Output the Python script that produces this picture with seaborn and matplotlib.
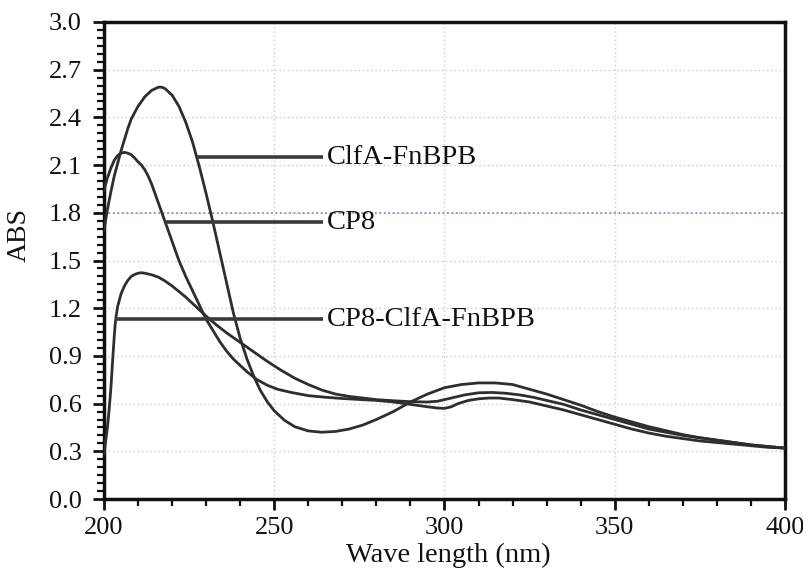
import numpy as np
import pandas as pd
import matplotlib
matplotlib.use("Agg")
import matplotlib.pyplot as plt
from matplotlib.ticker import MultipleLocator, FormatStrFormatter
import seaborn as sns

# ---------------- data ----------------
clfa_x = [200, 201, 202, 203, 204, 205, 206, 207, 208, 210, 212, 214, 216, 217, 218, 220,
          222, 224, 226, 228, 230, 232, 234, 236, 238, 240, 242, 244, 246, 248, 250, 253,
          256, 260, 264, 268, 272, 276, 280, 285, 290, 295, 300, 305, 310, 315, 320, 325,
          330, 335, 340, 345, 350, 355, 360, 365, 370, 375, 380, 385, 390, 395, 400]
clfa_y = [1.69, 1.82, 1.93, 2.03, 2.11, 2.19, 2.26, 2.33, 2.39, 2.47, 2.53, 2.57, 2.59, 2.59, 2.58, 2.54,
          2.47, 2.37, 2.245, 2.09, 1.92, 1.74, 1.55, 1.36, 1.17, 1.01, 0.88, 0.77, 0.68, 0.61, 0.555, 0.495,
          0.455, 0.428, 0.42, 0.425, 0.44, 0.465, 0.50, 0.55, 0.61, 0.66, 0.70, 0.72, 0.73, 0.73, 0.72, 0.69,
          0.66, 0.625, 0.59, 0.55, 0.515, 0.485, 0.455, 0.43, 0.405, 0.385, 0.37, 0.355, 0.34, 0.33, 0.32]

cp8_x = [200, 201, 202, 203, 204, 205, 206, 207, 208, 209, 210, 211, 212, 213, 214, 215,
         216, 217, 218, 219, 220, 221, 222, 224, 226, 228, 230, 232, 234, 236, 238, 240,
         242, 245, 248, 251, 255, 260, 265, 270, 275, 280, 285, 290, 295, 298, 300, 302,
         304, 307, 310, 313, 316, 320, 325, 330, 335, 340, 345, 350, 355, 360, 365, 370,
         375, 380, 385, 390, 395, 400]
cp8_y = [1.94, 2.02, 2.08, 2.13, 2.16, 2.175, 2.18, 2.175, 2.165, 2.145, 2.12, 2.10, 2.07, 2.03, 1.98, 1.92,
         1.86, 1.80, 1.74, 1.68, 1.62, 1.56, 1.50, 1.40, 1.31, 1.22, 1.13, 1.06, 0.99, 0.93, 0.88, 0.84,
         0.80, 0.75, 0.715, 0.69, 0.67, 0.65, 0.64, 0.632, 0.626, 0.62, 0.61, 0.595, 0.58, 0.572, 0.57, 0.58,
         0.60, 0.62, 0.63, 0.635, 0.635, 0.625, 0.61, 0.585, 0.56, 0.53, 0.50, 0.47, 0.44, 0.415, 0.395, 0.38,
         0.365, 0.355, 0.345, 0.335, 0.325, 0.32]

mix_x = [200, 201, 201.5, 202, 202.5, 203, 203.25, 203.5, 204, 205, 206, 207, 208, 209, 210, 211, 212,
         214, 216, 218, 220, 222, 224, 226, 228, 230, 233, 236, 240, 244, 248, 252, 256,
         260, 264, 268, 272, 276, 280, 285, 290, 295, 298, 300, 303, 306, 310, 314, 318,
         322, 326, 330, 335, 340, 345, 350, 355, 360, 365, 370, 375, 380, 385, 390, 395, 400]
mix_y = [0.28, 0.45, 0.56, 0.69, 0.86, 1.02, 1.09, 1.14, 1.21, 1.29, 1.34, 1.375, 1.40, 1.412, 1.42, 1.423, 1.42,
         1.41, 1.395, 1.37, 1.34, 1.305, 1.27, 1.23, 1.19, 1.15, 1.095, 1.045, 0.985, 0.925, 0.865, 0.81, 0.76,
         0.72, 0.685, 0.66, 0.645, 0.635, 0.625, 0.618, 0.612, 0.61, 0.615, 0.625, 0.64, 0.655, 0.668, 0.67, 0.665,
         0.655, 0.64, 0.62, 0.595, 0.56, 0.53, 0.50, 0.47, 0.44, 0.42, 0.40, 0.385, 0.37, 0.355, 0.34, 0.33, 0.32]

series_names = ["ClfA-FnBPB", "CP8", "CP8-ClfA-FnBPB"]

# label leader lines: start wavelength on the curve, end wavelength, ABS level
label_x_start = [227.3, 218.0, 203.2]
label_x_end = [264.3, 264.3, 264.3]
label_y = [2.15, 1.74, 1.13]
label_text_x = 265.5

x_ticks = [200, 250, 300, 350, 400]
y_ticks = [0.0, 0.3, 0.6, 0.9, 1.2, 1.5, 1.8, 2.1, 2.4, 2.7, 3.0]
highlight_grid_y = 1.8

# ---------------- build table ----------------
frames = []
for name, xs, ys in zip(series_names, [clfa_x, cp8_x, mix_x], [clfa_y, cp8_y, mix_y]):
    frames.append(pd.DataFrame({"wl": xs, "abs": ys, "series": name}))
df = pd.concat(frames, ignore_index=True)

# ---------------- style ----------------
sns.set_theme(style="white")
plt.rcParams["font.family"] = ["Liberation Serif", "DejaVu Serif"]

fig = plt.figure(figsize=(8.04, 5.72), dpi=100)
ax = fig.add_axes([104 / 804, 1 - 499 / 572, (785 - 104) / 804, (499 - 22) / 572])

ax.set_xlim(200, 400)
ax.set_ylim(0, 3.0)

# grid
ax.set_xticks(x_ticks)
ax.set_yticks(y_ticks)
ax.grid(True, which="major", linestyle=(0, (1, 2)), color="#c9c9d9", linewidth=1.0)
ax.axhline(highlight_grid_y, linestyle=(0, (1, 1.5)), color="#8c8cc8", linewidth=1.3, zorder=1)
ax.set_axisbelow(True)

line_color = "#2e2e2e"
sns.lineplot(data=df, x="wl", y="abs", hue="series", units="series", estimator=None,
             sort=False, palette=[line_color] * 3, linewidth=2.0, legend=False, ax=ax, zorder=3)

for xs, xe, yy, txt in zip(label_x_start, label_x_end, label_y, series_names):
    ax.plot([xs, xe], [yy, yy], color="#3a3a3a", linewidth=2.6, solid_capstyle="butt", zorder=4)
    ax.text(label_text_x, yy, txt, fontsize=20.5, va="center", ha="left", color="#111111", zorder=5)

# spines & ticks
for s in ax.spines.values():
    s.set_color("#111111")
    s.set_linewidth(2.5)
    s.set_visible(True)

ax.xaxis.set_minor_locator(MultipleLocator(10))
ax.yaxis.set_minor_locator(MultipleLocator(0.05))
ax.tick_params(axis="both", which="both", bottom=True, left=True, top=False, right=False)
ax.tick_params(axis="both", which="major", direction="out", length=8, width=2,
               color="#111111", labelsize=19, labelcolor="#111111")
ax.tick_params(axis="both", which="minor", direction="out", length=5, width=1.6, color="#111111")
ax.tick_params(axis="x", which="major", pad=5)
ax.tick_params(axis="y", which="major", pad=8)
ax.yaxis.set_major_formatter(FormatStrFormatter("%.1f"))

ax.set_xlabel("Wave length (nm)", fontsize=20.5, color="#111111")
ax.xaxis.set_label_coords(0.505, -0.092)
ax.set_ylabel("ABS", fontsize=20, color="#111111")
ax.yaxis.set_label_coords(-0.106, 0.553)

fig.savefig("out.png", dpi=100)
